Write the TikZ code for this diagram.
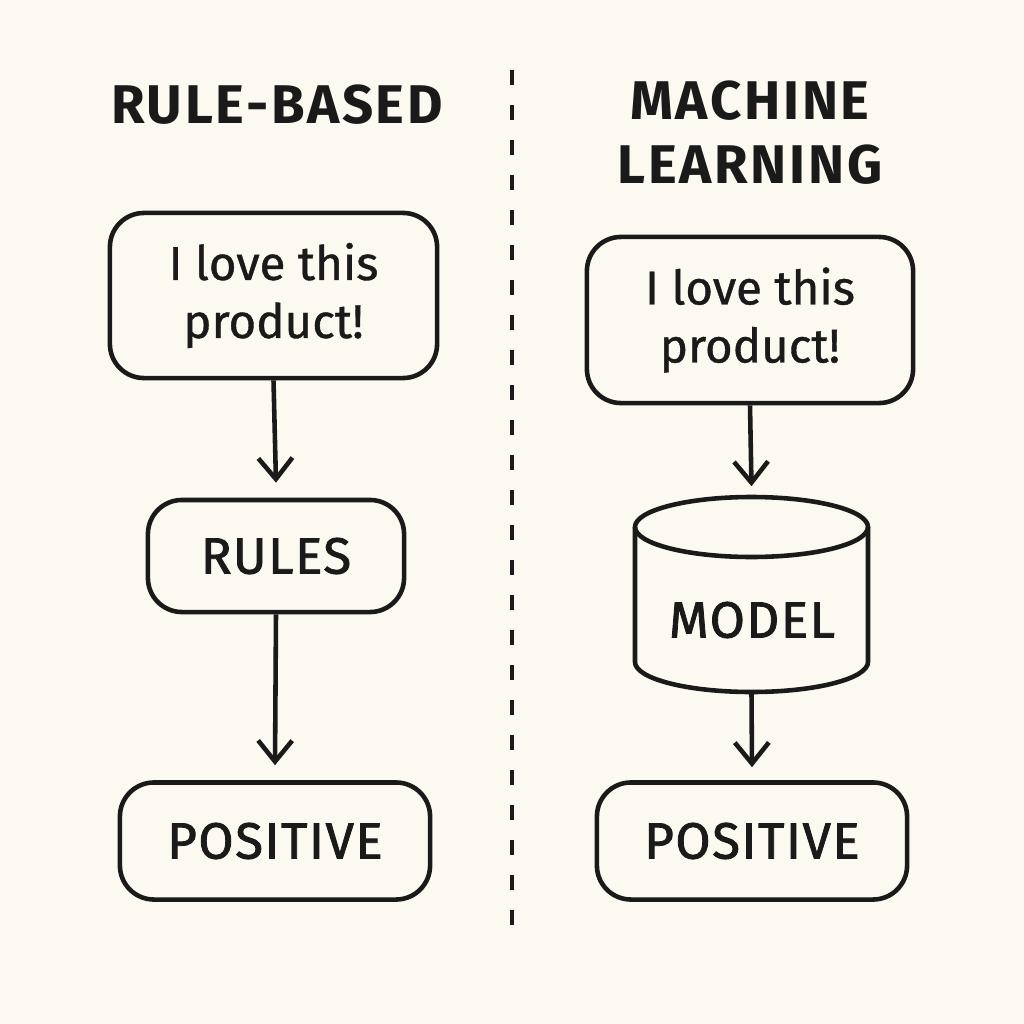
\documentclass[tikz,border=0pt]{standalone}
\usepackage{fontspec}
\setmainfont{Fira Sans}
\newfontfamily\bodyfont[FakeBold=0.8]{Fira Sans}
\newfontfamily\capfont[FakeBold=1.6,LetterSpace=3]{Fira Sans}
\usetikzlibrary{arrows.meta}
\definecolor{bg}{HTML}{FCF9F0}
\definecolor{ink}{HTML}{1A1A1A}
\begin{document}
\begin{tikzpicture}[x=0.01cm,y=-0.01cm,
  ink line/.style={draw=ink,line width=1.3pt},
  roundbox/.style={ink line,rounded corners=0.34cm,align=center,inner sep=0pt,text=ink},
  heading/.style={font=\fontsize{15.5}{20}\selectfont\bfseries,text=ink,align=center},
  bodytext/.style={font=\bodyfont\fontsize{13.5}{16.5}\selectfont},
  captext/.style={font=\capfont\fontsize{14.5}{17}\selectfont},
  flow/.style={ink line,-{Straight Barb[length=2.1mm,width=3.4mm]}}
]
\fill[bg] (0,0) rectangle (1024,1024);
\useasboundingbox (0,0) rectangle (1024,1024);

% headings
\node[heading] (hl) at (277,105) {\addfontfeatures{LetterSpace=5}RULE-BASED};
\node[heading] (hr1) at (750,101) {\addfontfeatures{LetterSpace=5}MACHINE};
\node[heading] (hr2) at (750,165) {\addfontfeatures{LetterSpace=5}LEARNING};

% divider
\coordinate (dtop) at (512,70);
\coordinate (dbot) at (512,945);
\draw[draw=ink,line width=1.4pt,dash pattern=on 0.15cm off 0.2cm] (dtop) -- (dbot);

% left column
\node[roundbox,minimum width=3.27cm,minimum height=1.65cm,bodytext] (in1) at (273.5,295.5) {I love this\\product!};
\node[roundbox,minimum width=2.56cm,minimum height=1.12cm,captext] (rules) at (276,556) {RULES};
\node[roundbox,minimum width=3.10cm,minimum height=1.17cm,captext] (pos1) at (275,841) {POSITIVE};

% right column
\node[roundbox,minimum width=3.26cm,minimum height=1.66cm,bodytext] (in2) at (750,320) {I love this\\product!};
% cylinder
\draw[ink line,fill=bg] (635,527) -- (635,662) arc[start angle=180,end angle=0,x radius=116.5,y radius=30] -- (868,527);
\draw[ink line] (751.5,527) ellipse[x radius=116.5,y radius=30];
\node[inner sep=0pt,minimum width=2.33cm,minimum height=1.95cm] (model) at (751.5,594.5) {};
\node[captext,text=ink] (modeltext) at (752,620) {MODEL};
\node[roundbox,minimum width=3.10cm,minimum height=1.17cm,captext] (pos2) at (752,841) {POSITIVE};

% connectors
\draw[flow] (in1.south) -- ([yshift=0.15cm]rules.north);
\draw[flow] (rules.south) -- ([yshift=0.15cm]pos1.north);
\draw[flow] (in2.south) -- ([yshift=0.1cm]model.north);
\draw[flow] (model.south) -- ([yshift=0.13cm]pos2.north);
\end{tikzpicture}
\end{document}
